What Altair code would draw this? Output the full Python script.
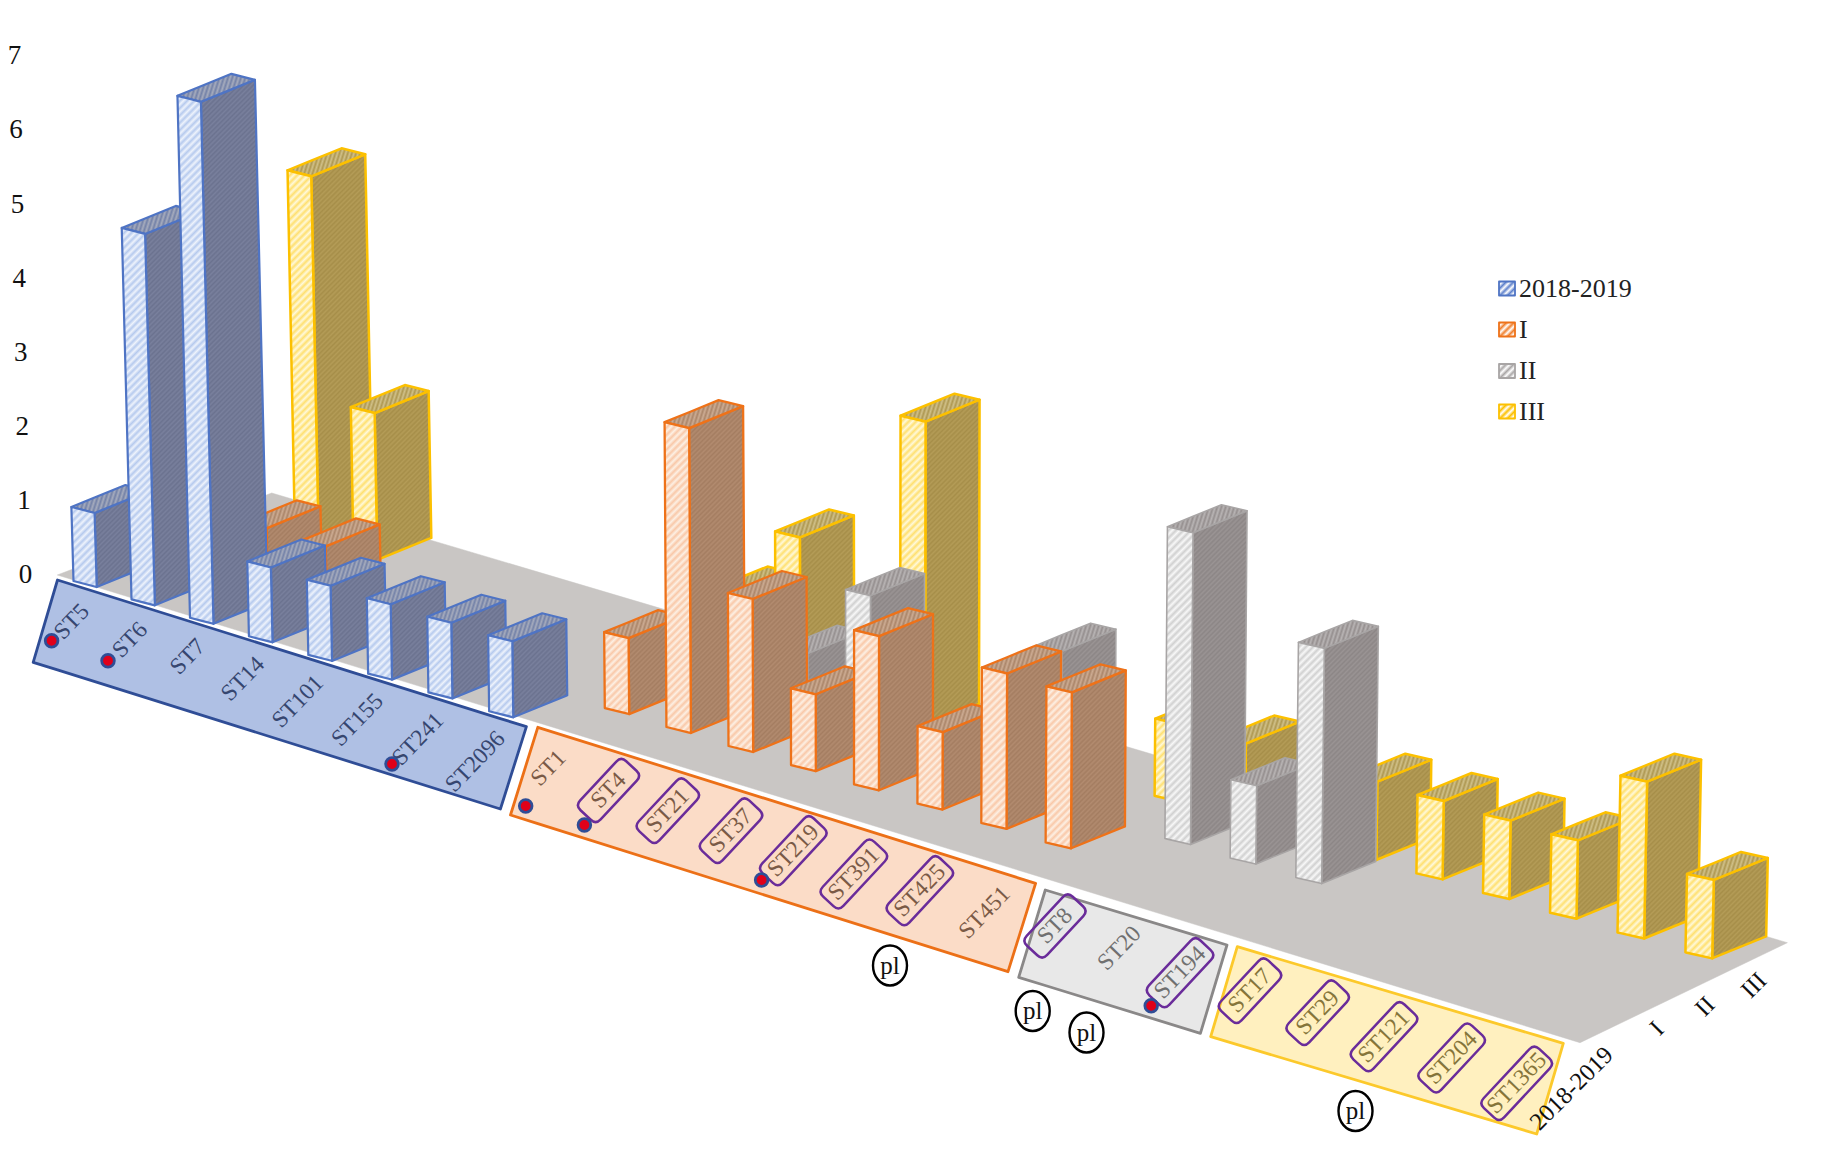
import math
import altair as alt
import pandas as pd

# ---------- values ----------
CATEGORIES = ["ST5", "ST6", "ST7", "ST14", "ST101", "ST155", "ST241", "ST2096",
              "ST1", "ST4", "ST21", "ST37", "ST219", "ST391", "ST425", "ST451",
              "ST8", "ST20", "ST194",
              "ST17", "ST29", "ST121", "ST204", "ST1365"]
SERIES = ["2018-2019", "I", "II", "III"]
V_2018 = [1, 5, 7, 1, 1, 1, 1, 1, 0, 0, 0, 0, 0, 0, 0, 0, 0, 0, 0, 0, 0, 0, 0, 0]
V_I    = [0, 0, 1, 1, 0, 0, 0, 0, 1, 4, 2, 1, 2, 1, 2, 2, 0, 0, 0, 0, 0, 0, 0, 0]
V_II   = [0, 0, 0, 0, 0, 0, 0, 0, 0, 0, 1, 2, 0, 0, 2, 0, 4, 1, 3, 0, 0, 0, 0, 0]
V_III  = [0, 5, 2, 0, 0, 0, 0, 0, 1, 2, 0, 4, 0, 0, 0, 1, 1, 0, 1, 1, 1, 1, 2, 1]
VALUES = [V_2018, V_I, V_II, V_III]
TICKS = [0, 1, 2, 3, 4, 5, 6, 7]
BOXED = ["ST4", "ST21", "ST37", "ST219", "ST391", "ST425", "ST8", "ST194",
         "ST17", "ST29", "ST121", "ST204", "ST1365"]
DOTTED = ["ST5", "ST6", "ST241", "ST1", "ST4", "ST219", "ST194"]

# ---------- styles ----------
STYLE = {
    0: dict(stroke="#4f74c4", fa="#b6caee", fb="#eef3fc", ta="#7482a8", tb="#a5abbd", side="#727996", sw=2.2),
    1: dict(stroke="#ee7219", fa="#f9c8a8", fb="#fdf0e4", ta="#ab866a", tb="#ccab92", side="#ab8468", sw=2.3),
    2: dict(stroke="#a8a5a5", fa="#d0d0d0", fb="#f8f8f8", ta="#958f8f", tb="#b8b4b4", side="#938d8d", sw=1.6),
    3: dict(stroke="#fcc000", fa="#ffe070", fb="#fff9da", ta="#ae9852", tb="#d0c088", side="#ad9550", sw=2.5),
}
SERIF = "Liberation Serif"
XS = alt.Scale(domain=[8, 1832], nice=False, zero=False)
YS = alt.Scale(domain=[1156, 8], nice=False, zero=False)


def project(i, s):
    x = 73.5 + 57.8 * i + 0.225 * i * i + 54.5 * s
    y = 581 + 18.3 * i + 0.045 * i * i + s * (-21 - 0.15 * i)
    return x, y


def shade(col, delta):
    vals = [int(col[k:k + 2], 16) for k in (1, 3, 5)]
    vals = [min(255, max(0, v + delta)) for v in vals]
    return "#%02x%02x%02x" % tuple(vals)


def stripes(poly, ca, cb, period, nx, ny):
    xs = [p[0] for p in poly]
    ys = [p[1] for p in poly]
    w, h = max(xs) - min(xs), max(ys) - min(ys)
    gx, gy = w * nx, h * ny
    span = gx + gy
    k = span / (gx * gx + gy * gy)
    n = max(1, int(round(span / period)))
    stops = []
    for j in range(n):
        stops.append({"color": ca, "offset": j / n})
        stops.append({"color": cb, "offset": (j + 0.5) / n})
    stops.append({"color": ca, "offset": 1})
    return {"gradient": "linear", "x1": 0, "y1": 0, "x2": k * gx, "y2": k * gy, "stops": stops}


def polygon(poly, fill, stroke, sw):
    xs = sorted(set(p[0] for p in poly))
    rows = []
    m = len(poly)
    for x in xs:
        hits = []
        for a in range(m):
            x1, y1 = poly[a]
            x2, y2 = poly[(a + 1) % m]
            if min(x1, x2) <= x <= max(x1, x2):
                if x1 == x2:
                    hits += [y1, y2]
                else:
                    hits.append(y1 + (y2 - y1) * (x - x1) / (x2 - x1))
        rows.append({"x": x, "y": min(hits), "y2": max(hits)})
    return alt.Chart(pd.DataFrame(rows)).mark_area(
        fill=fill, stroke=stroke, strokeWidth=sw, strokeJoin="round", opacity=1
    ).encode(
        x=alt.X("x:Q", scale=XS, axis=None),
        y=alt.Y("y:Q", scale=YS, axis=None),
        y2="y2:Q",
    )


def texts(rows, size, color, angle=0, font=SERIF, align="center"):
    return alt.Chart(pd.DataFrame(rows)).mark_text(
        font=font, fontSize=size, color=color, angle=angle, align=align, baseline="middle"
    ).encode(
        x=alt.X("x:Q", scale=XS, axis=None),
        y=alt.Y("y:Q", scale=YS, axis=None),
        text="t:N",
    )


layers = []

# floor
layers.append(polygon([(57.3, 575), (271.7, 493), (1787.4, 942.7), (1580, 1042.7)], "#c9c6c4", "#c9c6c4", 0.5))

# bars, back row first
for s in (3, 2, 1, 0):
    st = STYLE[s]
    for i, v in enumerate(VALUES[s]):
        if v <= 0:
            continue
        X, Y = project(i, s)
        lean = (X - 830) * (0.0019 if X > 830 else 0.0028)
        unit = min(78.4, 74.0 + 0.0048 * (X - 72) - 0.65 * s)
        wx = 23.2 + 0.0022 * (X - 72)
        fbl = (X, Y)
        fbr = (X + wx, Y + 6)
        ftl = (X + lean * v, Y - unit * v)
        ftr = (ftl[0] + wx, ftl[1] + 6)
        d = (54, -22)
        side = [fbr, (fbr[0] + d[0], fbr[1] + d[1]), (ftr[0] + d[0], ftr[1] + d[1]), ftr]
        top = [ftl, ftr, (ftr[0] + d[0], ftr[1] + d[1]), (ftl[0] + d[0], ftl[1] + d[1])]
        front = [fbl, fbr, ftr, ftl]
        layers.append(polygon(side, stripes(side, shade(st["side"], -7), shade(st["side"], 7), 3.4, 0.707, 0.707),
                              st["stroke"], st["sw"]))
        layers.append(polygon(top, stripes(top, st["ta"], st["tb"], 4.0, 0.95, 0.3), st["stroke"], st["sw"]))
        layers.append(polygon(front, stripes(front, st["fa"], st["fb"], 5.2, 0.707, 0.707), st["stroke"], st["sw"]))

# group bands
BANDS = [
    ([(57.5, 580), (526.4, 726.7), (500.4, 809), (33.2, 662.3)], "#afc0e4", "#2f4d96", 2.8),
    ([(537.8, 727.3), (1035.6, 883.3), (1008, 971.7), (510.5, 815)], "#fbdcc7", "#ec7017", 2.8),
    ([(1045.3, 890), (1227, 945), (1200.4, 1033.3), (1018.7, 977.3)], "#e8e8e8", "#8a8888", 2.8),
    ([(1237.3, 946.7), (1563.3, 1043.3), (1536.7, 1134), (1210.7, 1036.7)], "#fff0bf", "#fcc92b", 2.8),
]
for poly, f, c, sw in BANDS:
    layers.append(polygon(poly, f, c, sw))

# category labels
LABEL_POS = [(71.8, 621.7), (130, 640), (187.9, 656.7), (243, 679), (297.9, 701.7), (357.5, 720), (418, 739.3), (475.4, 761.7),
             (548.5, 768.3), (608.5, 790.5), (667.8, 810.7), (731, 830.7), (793.3, 850.7), (853.9, 874), (919.8, 890.7), (984.7, 912.7),
             (1055, 926), (1119.5, 948.3), (1180, 972.7),
             (1250, 990.7), (1317.7, 1012.7), (1384, 1036.7), (1451.7, 1058), (1516.7, 1083.3)]
LABEL_COL = ["#36466f"] * 8 + ["#7a5a46"] * 8 + ["#707070"] * 3 + ["#85753a"] * 5
for name, (x, y), col in zip(CATEGORIES, LABEL_POS, LABEL_COL):
    layers.append(texts([{"x": x, "y": y, "t": name}], 23.5, col, angle=314))

# purple rounded boxes
BOX_H = 28
BOX_L = {3: 67, 4: 69, 5: 75, 6: 81}
for name, (x, y) in zip(CATEGORIES, LABEL_POS):
    if name not in BOXED:
        continue
    L = BOX_L[len(name)]
    r = BOX_H / L
    c = 14 / L
    path = (f"M{-1+c},{-r} L{1-c},{-r} Q1,{-r} 1,{-r+c} L1,{r-c} Q1,{r} {1-c},{r} "
            f"L{-1+c},{r} Q-1,{r} -1,{r-c} L-1,{-r+c} Q-1,{-r} {-1+c},{-r} Z")
    layers.append(alt.Chart(pd.DataFrame([{"x": x, "y": y}])).mark_point(
        shape=path, size=L * L, angle=313, filled=False, stroke="#6a2c9a", strokeWidth=2.5, opacity=1
    ).encode(x=alt.X("x:Q", scale=XS, axis=None), y=alt.Y("y:Q", scale=YS, axis=None)))

# red dots
DOT_POS = {"ST5": (51.6, 640.7), "ST6": (108, 660.7), "ST241": (392, 764), "ST1": (525.7, 806),
           "ST4": (584.4, 825), "ST219": (761.6, 880), "ST194": (1151.2, 1005.7)}
layers.append(alt.Chart(pd.DataFrame([{"x": DOT_POS[n][0], "y": DOT_POS[n][1]} for n in DOTTED])).mark_point(
    shape="circle", size=160, filled=True, fill="#e0001a", stroke="#2f4d96", strokeWidth=2.8, opacity=1
).encode(x=alt.X("x:Q", scale=XS, axis=None), y=alt.Y("y:Q", scale=YS, axis=None)))

# "pl" marks
PL = [(890, 965.5), (1032.7, 1011), (1086.5, 1032.5), (1355.5, 1111)]
ELLIPSE = "M-0.85,0 A0.85,1 0 1,1 0.85,0 A0.85,1 0 1,1 -0.85,0 Z"
pl_df = pd.DataFrame([{"x": x, "y": y, "t": "pl"} for x, y in PL])
layers.append(alt.Chart(pl_df).mark_point(
    shape=ELLIPSE, size=1600, filled=False, stroke="#000000", strokeWidth=2.4, opacity=1
).encode(x=alt.X("x:Q", scale=XS, axis=None), y=alt.Y("y:Q", scale=YS, axis=None)))
layers.append(texts(pl_df.to_dict("records"), 25, "#111111"))

# left value labels
layers.append(texts([{"x": 25.5 - 1.58 * t, "y": 575 - 74.1 * t, "t": str(t)} for t in TICKS], 27, "#111111"))

# right depth labels
DEPTH_POS = [(1572, 1089), (1657.5, 1029), (1705.5, 1007), (1754.5, 986)]
layers.append(texts([{"x": p[0], "y": p[1], "t": n} for n, p in zip(SERIES, DEPTH_POS)], 24.5, "#111111", angle=315))

# legend
LEG_Y = [288.5, 329.5, 371, 411.5]
for s, (n, ly) in enumerate(zip(SERIES, LEG_Y)):
    st = STYLE[s]
    sq = [(1499, ly - 7), (1515, ly - 7), (1515, ly + 7), (1499, ly + 7)]
    colour = {0: "#5f82cc", 1: "#f0802e", 2: "#aaa7a7", 3: "#fcc000"}[s]
    layers.append(polygon(sq, stripes(sq, colour, "#ffffff", 5.0, 0.707, 0.707), st["stroke"], 1.8))
    layers.append(texts([{"x": 1519, "y": ly, "t": n}], 26, "#222222", align="left"))

chart = alt.layer(*layers).properties(
    width=1824, height=1148, padding=0, background="#ffffff",
    autosize=alt.AutoSizeParams(type="none"),
).configure_view(stroke=None)
chart.save("out.html", embed_options={"renderer": "svg", "actions": False})
